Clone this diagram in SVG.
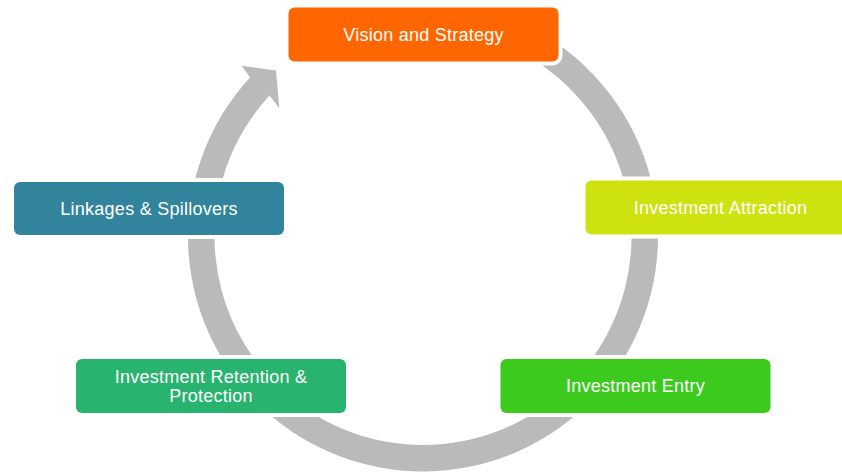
<svg xmlns="http://www.w3.org/2000/svg" width="842" height="472" viewBox="0 0 842 472">
  <style>
    .box { stroke: #ffffff; stroke-width: 8; paint-order: stroke; }
    .lbl { font-family: "Liberation Sans", Arial, sans-serif; font-size: 18px; fill: #ffffff; text-anchor: middle; letter-spacing: 0.25px; }
    .ring { fill: #bababa; }
  </style>
  <rect width="842" height="472" fill="#ffffff"/>
  <g id="connectors">
    <path class="ring" d="M557.8,44.0 A235,235 0 1 1 250.0,77.4 L241.7,65.7 L276.0,70.5 L279.3,108.3 L269.5,95.4 A208.5,208.5 0 1 0 542.6,65.7 Z"/>
  </g>
  <g id="vision">
    <rect class="box" x="288.5" y="7.5" width="270" height="54" rx="6" fill="#ff6600"/>
    <text class="lbl" x="423.5" y="40.5">Vision and Strategy</text>
  </g>
  <g id="attraction">
    <rect class="box" x="585.5" y="180.5" width="270" height="54" rx="6" fill="#cde20f"/>
    <text class="lbl" x="720.5" y="214">Investment Attraction</text>
  </g>
  <g id="entry">
    <rect class="box" x="500.5" y="359" width="270" height="54" rx="6" fill="#3cca1e"/>
    <text class="lbl" x="635.5" y="392">Investment Entry</text>
  </g>
  <g id="retention">
    <rect class="box" x="76" y="359" width="270" height="54" rx="6" fill="#28b36e"/>
    <text class="lbl" x="211" y="383">Investment Retention &amp;</text>
    <text class="lbl" x="211" y="402">Protection</text>
  </g>
  <g id="linkages">
    <rect class="box" x="14" y="182" width="270" height="53" rx="6" fill="#31849b"/>
    <text class="lbl" x="149" y="215">Linkages &amp; Spillovers</text>
  </g>
</svg>
